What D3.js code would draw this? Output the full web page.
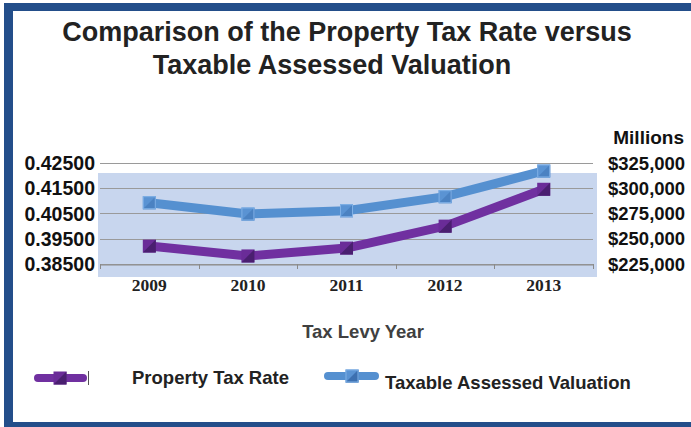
<!DOCTYPE html>
<html>
<head>
<meta charset="utf-8">
<script src="https://cdn.jsdelivr.net/npm/d3@7"></script>
<style>
  html, body { margin: 0; padding: 0; background: #fff; }
  svg { display: block; }
</style>
</head>
<body>
<svg id="chart" width="691" height="427"></svg>
<script>
const years = ["2009", "2010", "2011", "2012", "2013"];
const taxRate = [0.3921, 0.3882, 0.3913, 0.4000, 0.4146];
const valuation = [285700, 274500, 277800, 291700, 317100];
const leftTicks = [0.385, 0.395, 0.405, 0.415, 0.425];
const rightTicks = [225000, 250000, 275000, 300000, 325000];
const titleLines = ["Comparison of the Property Tax Rate versus", "Taxable Assessed Valuation"];
const seriesNames = ["Property Tax Rate", "Taxable Assessed Valuation"];

const svg = d3.select("#chart");
const font = "'Liberation Sans', Arial, sans-serif";
const frame = "#234e8a";

// frame
svg.append("rect").attr("x", 4).attr("y", 3).attr("width", 687).attr("height", 8).attr("fill", frame);
svg.append("rect").attr("x", 4).attr("y", 3).attr("width", 9).attr("height", 424).attr("fill", frame);
svg.append("rect").attr("x", 4).attr("y", 422).attr("width", 687).attr("height", 5).attr("fill", frame);

// title
svg.append("text").attr("x", 347).attr("y", 41).attr("text-anchor", "middle")
  .attr("font-family", font).attr("font-weight", "bold").attr("font-size", 27).attr("fill", "#222")
  .text(titleLines[0]);
svg.append("text").attr("x", 332).attr("y", 74).attr("text-anchor", "middle")
  .attr("font-family", font).attr("font-weight", "bold").attr("font-size", 27).attr("fill", "#222")
  .text(titleLines[1]);

const x = d3.scaleBand().domain(years).range([100, 593]).padding(0);
const yL = d3.scaleLinear().domain([0.385, 0.425]).range([264, 163]);
const yR = d3.scaleLinear().domain([225000, 325000]).range([264, 163]);

// plot background (offset fill as in reference)
svg.append("rect").attr("x", 98).attr("y", 173).attr("width", 499).attr("height", 104).attr("fill", "#c8d6ee");

// gridlines
svg.append("g").selectAll("line").data(leftTicks).join("line")
  .attr("x1", 100).attr("x2", 593)
  .attr("y1", d => Math.round(yL(d)) + 0.5).attr("y2", d => Math.round(yL(d)) + 0.5)
  .attr("stroke", "#9a9a9a").attr("stroke-width", 1);

// x axis
const xAxis = d3.axisBottom(x).tickSize(0).tickPadding(0).tickFormat("");
const gx = svg.append("g").attr("transform", "translate(0,264.5)").call(xAxis);
gx.select(".domain").attr("stroke", "#8a8a8a");
const bounds = years.map(d => x(d)).concat([x.range()[1]]);
svg.append("g").selectAll("line").data(bounds).join("line")
  .attr("x1", d => Math.round(d) + 0.5).attr("x2", d => Math.round(d) + 0.5)
  .attr("y1", 264).attr("y2", 269).attr("stroke", "#8a8a8a");
svg.append("g").selectAll("text").data(years).join("text")
  .attr("x", d => x(d) + x.bandwidth() / 2).attr("y", 291)
  .attr("text-anchor", "middle").attr("font-family", "'Liberation Serif', 'Times New Roman', serif")
  .attr("font-weight", "bold").attr("font-size", 17.5).attr("fill", "#222").text(d => d);

// left axis labels
svg.append("g").selectAll("text").data(leftTicks).join("text")
  .attr("x", 95).attr("y", d => yL(d)).attr("dy", "0.36em").attr("text-anchor", "end")
  .attr("font-family", font).attr("font-weight", "bold").attr("font-size", 19.5).attr("fill", "#111")
  .text(d => d3.format(".5f")(d));

// right axis labels
svg.append("g").selectAll("text").data(rightTicks).join("text")
  .attr("x", 608).attr("y", d => yR(d)).attr("dy", "0.36em").attr("text-anchor", "start")
  .attr("font-family", font).attr("font-weight", "bold").attr("font-size", 18.5).attr("fill", "#111")
  .text(d => "$" + d3.format(",")(d));
svg.append("text").attr("x", 684).attr("y", 144).attr("text-anchor", "end")
  .attr("font-family", font).attr("font-weight", "bold").attr("font-size", 19).attr("fill", "#111")
  .text("Millions");

// axis title
svg.append("text").attr("x", 363).attr("y", 338).attr("text-anchor", "middle")
  .attr("font-family", font).attr("font-weight", "bold").attr("font-size", 18.5).attr("fill", "#404040")
  .text("Tax Levy Year");

const cx = d => x(d) + x.bandwidth() / 2;

function marker(g, px, py, fill, dark, light) {
  const s = 13;
  g.append("rect").attr("x", px - s / 2).attr("y", py - s / 2).attr("width", s).attr("height", s).attr("fill", fill);
  g.append("path").attr("d", `M${px - s/2},${py + s/2}L${px + s/2},${py - s/2}L${px + s/2},${py + s/2}Z`).attr("fill", dark);
  if (light) g.append("rect").attr("x", px - s / 2 + 0.5).attr("y", py - s / 2 + 0.5).attr("width", s - 1).attr("height", s - 1)
    .attr("fill", "none").attr("stroke", light).attr("stroke-width", 1);
}

// blue series
const lineR = d3.line().x((d, i) => cx(years[i])).y(d => yR(d));
svg.append("path").datum(valuation).attr("d", lineR).attr("fill", "none")
  .attr("stroke", "#5590d0").attr("stroke-width", 9).attr("stroke-linejoin", "round");
const gB = svg.append("g");
valuation.forEach((v, i) => marker(gB, cx(years[i]), yR(v), "#5a93d3", "#4b82c2", "#7fb0e6"));

// purple series
const lineL = d3.line().x((d, i) => cx(years[i])).y(d => yL(d));
svg.append("path").datum(taxRate).attr("d", lineL).attr("fill", "none")
  .attr("stroke", "#7030a0").attr("stroke-width", 9).attr("stroke-linejoin", "round");
const gP = svg.append("g");
taxRate.forEach((v, i) => marker(gP, cx(years[i]), yL(v), "#6a2c98", "#4a1f70", null));

// legend
const lg = svg.append("g");
lg.append("line").attr("x1", 38).attr("x2", 83).attr("y1", 378).attr("y2", 378)
  .attr("stroke", "#7030a0").attr("stroke-width", 8).attr("stroke-linecap", "round");
marker(lg, 60, 378, "#6a2c98", "#4a1f70", null);
lg.append("line").attr("x1", 88.5).attr("x2", 88.5).attr("y1", 371).attr("y2", 385).attr("stroke", "#555").attr("stroke-width", 1);
lg.append("text").attr("x", 132).attr("y", 384).attr("font-family", font).attr("font-weight", "bold")
  .attr("font-size", 18.5).attr("fill", "#222").text(seriesNames[0]);
lg.append("line").attr("x1", 328).attr("x2", 375).attr("y1", 376).attr("y2", 376)
  .attr("stroke", "#5590d0").attr("stroke-width", 8).attr("stroke-linecap", "round");
marker(lg, 352, 376, "#5a93d3", "#3d70b0", "#7fb0e6");
lg.append("text").attr("x", 385).attr("y", 389).attr("font-family", font).attr("font-weight", "bold")
  .attr("font-size", 18.5).attr("fill", "#222").text(seriesNames[1]);
</script>
</body>
</html>
